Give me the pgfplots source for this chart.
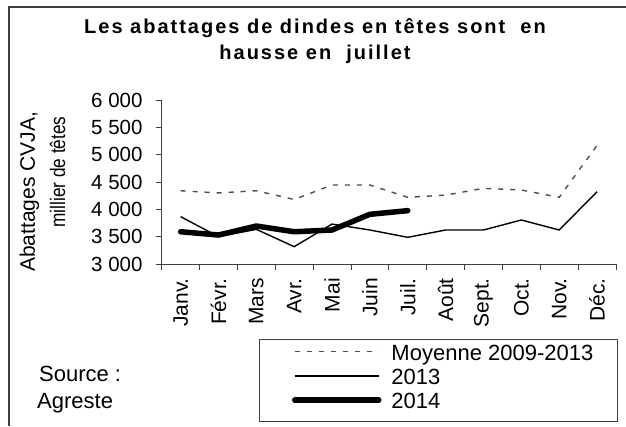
\documentclass[border=0pt]{standalone}
\usepackage{fontspec}
\setmainfont{Liberation Sans}
\newfontfamily\titlefont{Liberation Sans}[LetterSpace=10]
\usepackage{pgfplots}
\pgfplotsset{compat=1.18}
\usepackage{pgfplotstable}

\pgfplotstableread{
m moy a
0 4340 3866
1 4300 3500
2 4340 3634
3 4180 3317
4 4445 3730
5 4445 3622
6 4220 3488
7 4260 3622
8 4384 3622
9 4354 3805
10 4220 3622
11 5170 4323
}\dataA

\pgfplotstableread{
m b
0 3590
1 3530
2 3695
3 3590
4 3622
5 3909
6 3976
}\dataB

\begin{document}
\begin{tikzpicture}[x=1pt,y=1pt]
\useasboundingbox (0,0) rectangle (626,426);
\draw[black!75, line width=1.2pt] (9,0) -- (9,419) -- (626,419);
\draw[black!75, line width=0.9pt] (259,86.5) rectangle (617,4.5);

\node[anchor=base, inner sep=0pt, font=\titlefont\bfseries\fontsize{20}{20}\selectfont] at (315,392) {Les abattages de dindes en têtes sont~ en};
\node[anchor=base, inner sep=0pt, font=\titlefont\bfseries\fontsize{20}{20}\selectfont] at (315,366) {hausse en~ juillet};

\node[rotate=90, anchor=base, inner sep=0pt, font=\fontsize{21}{24}\selectfont] at (35,234) {Abattages CVJA,};
\node[rotate=90, anchor=base, inner sep=0pt, font=\fontsize{21}{24}\selectfont] at (65,254) {\scalebox{0.82}[1]{millier de têtes}};

\node[anchor=base west, inner sep=0pt, font=\fontsize{22}{24}\selectfont] at (39,45) {Source :};
\node[anchor=base west, inner sep=0pt, font=\fontsize{22}{24}\selectfont] at (37,18) {Agreste};

\begin{axis}[
  at={(161.7pt,162pt)}, anchor=south west,
  scale only axis, width=454.3pt, height=164pt,
  xmin=-0.5, xmax=11.5, ymin=3000, ymax=6000,
  axis x line*=bottom, axis y line*=left,
  axis line style={-, black!75, line width=0.8pt},
  tick align=outside, major tick length=6pt,
  tick style={black!75, line width=0.8pt},
  xtick={-0.5,0.5,1.5,2.5,3.5,4.5,5.5,6.5,7.5,8.5,9.5,10.5,11.5},
  xticklabels={},
  extra x ticks={0,1,2,3,4,5,6,7,8,9,10,11},
  extra x tick labels={Janv.,Févr.,Mars,Avr.,Mai,Juin,Juil.,Août,Sept.,Oct.,Nov.,Déc.},
  extra x tick style={major tick length=0pt},
  xticklabel style={yshift=-14pt, rotate=90, anchor=east, inner sep=0pt, font=\fontsize{21}{24}\selectfont},
  ytick={3000,3500,4000,4500,5000,5500,6000},
  yticklabels={3 000,3 500,4 000,4 500,5 000,5 500,6 000},
  yticklabel style={anchor=east, inner sep=0pt, xshift=-13pt, font=\fontsize{20.5}{24}\selectfont},
  legend style={draw=none, fill=none, at={(axis description cs:0.2868,-0.4896)}, anchor=north west,
    inner sep=0pt, outer sep=0pt, row sep=3.2pt, column sep=10pt,
    font=\fontsize{22}{24}\selectfont,
    nodes={inner sep=0pt, text height=16pt, text depth=5pt},
    cells={anchor=base west}},
  legend image code/.code={\draw[#1] (0pt,8.5pt) -- (84pt,8.5pt);},
]
\addplot[black!70, line width=1.4pt, dash pattern=on 5pt off 7pt] table[x=m,y=moy]{\dataA};
\addplot[black, line width=1.4pt] table[x=m,y=a]{\dataA};
\addplot[black, line width=5.5pt, line cap=round, line join=round] table[x=m,y=b]{\dataB};
\legend{Moyenne 2009-2013, 2013, 2014}
\end{axis}
\end{tikzpicture}
\end{document}
